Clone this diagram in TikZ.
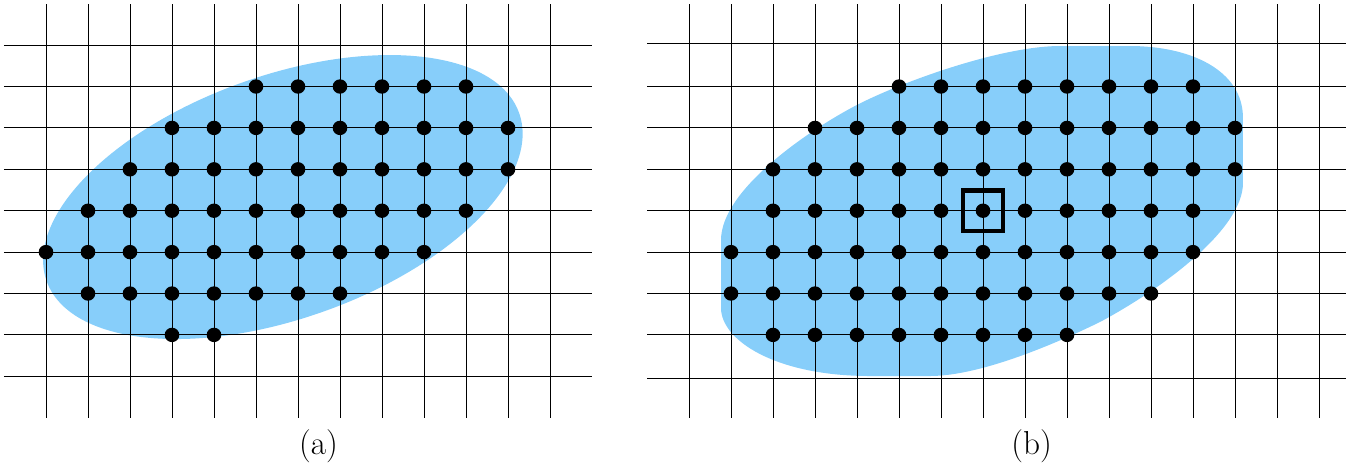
\documentclass[tikz,border=0pt]{standalone}
\usepackage{tikz}
\usepackage{xcolor}
\definecolor{BlobBlue}{RGB}{135,206,250}
\tikzset{
  gridline/.style={line width=0.6pt, black},
  latticedot/.style={fill=black},
  panellabel/.style={font=\fontsize{22.5}{27}\selectfont, inner sep=0pt}
}

\begin{document}
\begin{tikzpicture}
  \useasboundingbox (0,0) rectangle (32.31,11.143);
  % panel (a): ellipse
  \begin{scope}[shift={(1.095,2.183)}, yscale=0.9857]
    \fill[BlobBlue, rotate around={20:(5.64,4.33)}] (5.64,4.33) ellipse (5.98 and 2.93);
    \foreach \y in {0,...,8} \draw[gridline] (-1,\y) -- (13,\y);
    \foreach \x in {0,...,12} \draw[gridline] (\x,-1) -- (\x,9);
    \foreach \y/\a/\b in {7/5/10,6/3/11,5/2/11,4/1/10,3/0/9,2/1/7,1/3/4}
      \foreach \x in {\a,...,\b} \fill[latticedot] (\x,\y) circle (0.174);
    \node[panellabel] (capa) at (6.49,-1.7) {(a)};
  \end{scope}
  % panel (b): blob with marked point
  \begin{scope}[shift={(16.405,2.183)}, yscale=0.9857]
    \fill[BlobBlue] (0.762,3.292) -- (0.762,1.650)
      .. controls (0.762,0.877) and (2.048,0.007) .. (4.310,0.007) -- (5.738,0.007)
      .. controls (6.929,0.007) and (8.714,0.780) .. (9.786,1.312)
      .. controls (11.214,2.085) and (13.190,3.534) .. (13.190,4.669) -- (13.190,6.239)
      .. controls (13.190,7.398) and (11.929,7.978) .. (10.5,7.978) -- (8.833,7.978)
      .. controls (7.405,7.978) and (4.976,7.085) .. (3.905,6.505)
      .. controls (2.833,5.925) and (0.762,4.500) .. (0.762,3.292) -- cycle;
    \foreach \y in {-0.06,1,2,3,4,5,6,7,8.05} \draw[gridline] (-1,\y) -- (15.64,\y);
    \foreach \x in {0,...,15} \draw[gridline] (\x,-1) -- (\x,9);
    \foreach \y/\a/\b in {7/5/12,6/3/13,5/2/13,4/2/12,3/1/12,2/1/11,1/2/9}
      \foreach \x in {\a,...,\b} \fill[latticedot] (\x,\y) circle (0.174);
    \node[draw, line width=3pt, minimum size=0.96cm, inner sep=0pt] (probe) at (7,4) {};
    \node[panellabel] (capb) at (8.155,-1.7) {(b)};
  \end{scope}
\end{tikzpicture}
\end{document}
